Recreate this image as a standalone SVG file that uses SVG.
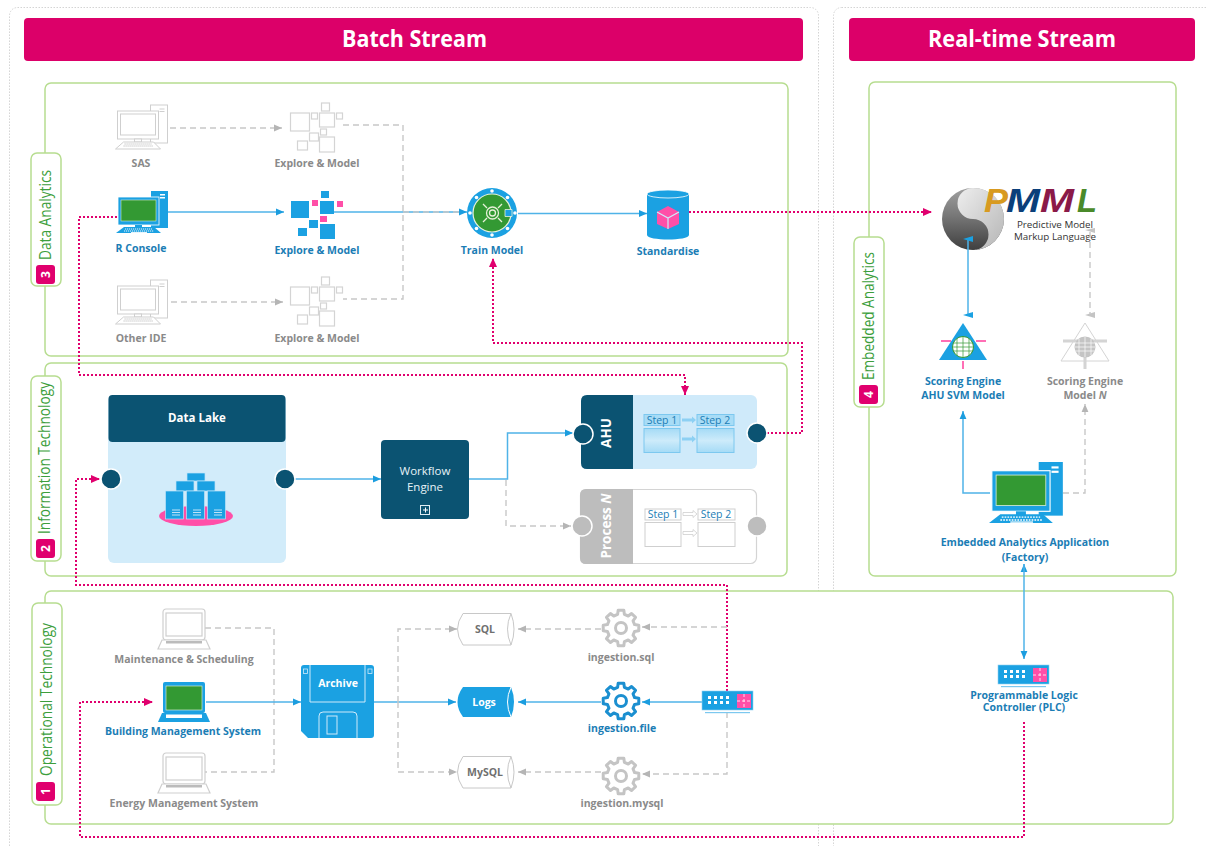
<svg xmlns="http://www.w3.org/2000/svg" xmlns:xlink="http://www.w3.org/1999/xlink" width="1206" height="846" viewBox="0 0 1206 846">
<style>
text{font-family:"Open Sans","Noto Sans","Liberation Sans",sans-serif}
.hd{font-size:23px;font-weight:700;fill:#fff;text-anchor:middle}
.panel{fill:#fff;stroke:#b7dd90;stroke-width:1.5}
.outer{fill:none;stroke:#d4d4d4;stroke-width:1;stroke-dasharray:1.5 1.5}
.tab{fill:#fff;stroke:#b7dd90;stroke-width:1.5}
.side{font-size:15.5px;fill:#3c9e3c}
.bdg{fill:#e0006e}
.num{font-size:12px;font-weight:700;fill:#fff;text-anchor:middle}
.lb{font-size:10.5px;font-weight:700;fill:#1b7db5;text-anchor:middle}
.lg{font-size:10.5px;font-weight:700;fill:#8a8a8a;text-anchor:middle}
.wb{font-weight:700;fill:#fff;text-anchor:middle}
.blue{fill:none;stroke:#4fb3e8;stroke-width:1.5}
.gray{fill:none;stroke:#c8c8c8;stroke-width:1.4;stroke-dasharray:6 4}
.pink{fill:none;stroke:#e0006e;stroke-width:2;stroke-dasharray:2 2}
.dark{fill:#0b5372}
.b{fill:#1ba1e2}
.p{fill:#ff4fa8}
.g{fill:#339933}
.gr{fill:#fff;stroke:#cfcfcf;stroke-width:1.2}
.gs{font-size:10.5px;fill:#1b7db5;text-anchor:middle}
.pm{font-size:34px;font-weight:700;font-style:italic;font-family:"Liberation Sans",sans-serif}
</style>
<defs>
<linearGradient id="stepf" x1="0" y1="0" x2="0" y2="1"><stop offset="0" stop-color="#a5dbf6"/><stop offset=".5" stop-color="#cdebfa"/><stop offset="1" stop-color="#a5dbf6"/></linearGradient>
<linearGradient id="sd" x1="0" y1="0" x2="0" y2="1"><stop offset="0" stop-color="#a0a0a0"/><stop offset=".45" stop-color="#777"/><stop offset="1" stop-color="#3f3f3f"/></linearGradient>
<linearGradient id="sl" x1="0" y1="0" x2="1" y2="1"><stop offset="0" stop-color="#eeeeee"/><stop offset="1" stop-color="#b5b5b5"/></linearGradient>
<marker id="ab" markerUnits="userSpaceOnUse" markerWidth="10" markerHeight="10" refX="9" refY="5" orient="auto"><path d="M1 1.600L9 5L1 8.400Z" fill="#1b9ddf"/></marker>
<marker id="ag" markerUnits="userSpaceOnUse" markerWidth="10" markerHeight="10" refX="9" refY="5" orient="auto"><path d="M1 1.600L9 5L1 8.400Z" fill="#b5b5b5"/></marker>
<marker id="ap" markerUnits="userSpaceOnUse" markerWidth="10" markerHeight="10" refX="9" refY="5" orient="auto"><path d="M0 1L9 5L0 9Z" fill="#e0006e"/></marker>
<g id="pcb">
<rect x="35" y="0" width="17" height="37" fill="#1ba1e2"/><rect x="44" y="3" width="5" height="1.500" fill="#fff"/><rect x="44" y="6" width="5" height="1.500" fill="#fff"/>
<rect x="2" y="6" width="41" height="28" fill="#1ba1e2" stroke="#fff" stroke-width=".8"/><rect x="5" y="9" width="35" height="21" fill="#339933" stroke="#cfe8cf" stroke-width=".6"/>
<rect x="19" y="34" width="7" height="4" fill="#1ba1e2"/>
<path d="M8 36H38L45 42H0Z" fill="#1ba1e2"/><path d="M9 38H36M8 40H38" stroke="#fff" stroke-width=".9" stroke-dasharray="1.200 .8"/><rect x="15" y="41" width="16" height=".9" fill="#fff"/>
</g>
<g id="pcg" fill="#fff" stroke="#cfcfcf" stroke-width="1">
<rect x="35" y="0" width="17" height="38"/><path d="M44 4h5M44 6.500h5"/>
<rect x="2" y="6" width="41" height="28"/><rect x="5" y="9" width="35" height="21"/>
<rect x="19" y="34" width="7" height="3"/>
<path d="M8 37H38L45 44H0Z"/><path d="M9 39H36M8 41H38" stroke-dasharray="1.200 .8" stroke="#bbb"/>
</g>
<g id="exb">
<rect x="0" y="10" width="18" height="17" fill="#1ba1e2"/><rect x="21" y="9" width="6" height="6" fill="#ff4fa8"/><rect x="30" y="0" width="8" height="7" fill="#1ba1e2"/><rect x="29" y="10" width="14" height="13" fill="#1ba1e2"/><rect x="46" y="10" width="6" height="6" fill="#ff4fa8"/><rect x="29" y="25" width="7" height="6" fill="#ff4fa8"/><rect x="18" y="29" width="9" height="8" fill="#1ba1e2"/><rect x="7" y="37" width="9" height="8" fill="#1ba1e2"/><rect x="29" y="33" width="15" height="15" fill="#1ba1e2"/>
</g>
<g id="exg" fill="#fff" stroke="#d4d4d4" stroke-width="1.200">
<rect x="0" y="10" width="19" height="18"/><rect x="21" y="10" width="6" height="6"/><rect x="31" y="0" width="8" height="8"/><rect x="29" y="10" width="15" height="14"/><rect x="46" y="10" width="6" height="6"/><rect x="30" y="26" width="6" height="6"/><rect x="19" y="30" width="9" height="8"/><rect x="7" y="38" width="10" height="9"/><rect x="29" y="34" width="15" height="15"/>
</g>
<g id="lapb">
<rect x="5" y="0" width="42" height="31" rx="2" fill="#1ba1e2"/><rect x="8" y="4" width="36" height="24" fill="#339933" stroke="#cfe8cf" stroke-width=".7"/>
<path d="M4 31H48L52 40H0Z" fill="#1ba1e2"/><rect x="8" y="32.500" width="36" height="3.500" fill="#fff"/>
</g>
<g id="lapg" fill="#fff" stroke="#cfcfcf" stroke-width="1.200">
<rect x="5" y="0" width="42" height="31" rx="3"/><rect x="8" y="4" width="36" height="23"/>
<path d="M4 31H48L52 40H0Z"/><rect x="8" y="32" width="36" height="2.500" fill="#bbb" stroke="none"/>
</g>
<path id="gear" d="M13.580-3.390L17.780-2.820L17.780 2.820L13.580 3.390L12 7.210L14.560 10.580L10.580 14.560L7.210 12L3.390 13.580L2.820 17.780L-2.820 17.780L-3.390 13.580L-7.210 12L-10.580 14.560L-14.560 10.580L-12 7.210L-13.580 3.390L-17.780 2.820L-17.780-2.820L-13.580-3.390L-12-7.210L-14.560-10.580L-10.580-14.560L-7.210-12L-3.390-13.580L-2.820-17.780L2.820-17.780L3.390-13.580L7.210-12L10.580-14.560L14.560-10.580L12-7.210Z" fill="none" stroke-width="3" stroke-linejoin="round"/>
<g id="sw">
<rect x="0" y="0" width="51" height="19" fill="#1ba1e2" stroke="#8fd0f2" stroke-width=".6"/>
<path d="M6 6.500H28M6 11.500H28" stroke="#fff" stroke-width="3" stroke-dasharray="3 3"/>
<rect x="35" y="3" width="14" height="14" fill="#ff4fa8"/><path d="M42 3V17M35 10H49" stroke="#fff" stroke-width=".8" stroke-dasharray="3 2"/>
<rect x="3" y="21" width="45" height="1.200" fill="#7cc8ef"/>
</g>
</defs>

<g id="frames">
<rect class="outer" x="9.500" y="7.500" width="809" height="860" rx="8"/>
<rect class="outer" x="833.500" y="7.500" width="400" height="860" rx="8"/>
<rect x="24" y="18" width="779" height="43" rx="4" fill="#dc0069"/>
<rect x="849" y="18" width="346" height="43" rx="4" fill="#dc0069"/>
<text class="hd" x="414.500" y="47" textLength="145" lengthAdjust="spacingAndGlyphs">Batch Stream</text>
<text class="hd" x="1022" y="47" textLength="188" lengthAdjust="spacingAndGlyphs">Real-time Stream</text>
<rect class="panel" x="45" y="83" width="743" height="273" rx="6"/>
<rect class="panel" x="45" y="363" width="742" height="213" rx="6"/>
<rect class="panel" x="45" y="591" width="1128" height="233" rx="6"/>
<rect class="panel" x="869" y="82" width="307" height="494" rx="6"/>
</g>

<g id="tab-data-analytics"><rect class="tab" x="31" y="153" width="30" height="133" rx="6"/><rect class="bdg" x="36" y="265" width="19" height="19" rx="3"/><text class="num" transform="translate(50 274.500) rotate(-90)">3</text><text class="side" transform="translate(51 260) rotate(-90)" textLength="90" lengthAdjust="spacingAndGlyphs">Data Analytics</text></g>
<g id="tab-information-technology"><rect class="tab" x="31" y="376" width="30" height="185" rx="6"/><rect class="bdg" x="36" y="539" width="19" height="19" rx="3"/><text class="num" transform="translate(50 548.500) rotate(-90)">2</text><text class="side" transform="translate(50 534) rotate(-90)" textLength="152" lengthAdjust="spacingAndGlyphs">Information Technology</text></g>
<g id="tab-operational-technology"><rect class="tab" x="32" y="603" width="30" height="202" rx="6"/><rect class="bdg" x="36" y="782" width="19" height="19" rx="3"/><text class="num" transform="translate(50 791.500) rotate(-90)">1</text><text class="side" transform="translate(52 776) rotate(-90)" textLength="153" lengthAdjust="spacingAndGlyphs">Operational Technology</text></g>
<g id="tab-embedded-analytics"><rect class="tab" x="854" y="237" width="30" height="170" rx="6"/><rect class="bdg" x="859" y="385" width="19" height="19" rx="3"/><text class="num" transform="translate(873 394.500) rotate(-90)">4</text><text class="side" transform="translate(874 380) rotate(-90)" textLength="128" lengthAdjust="spacingAndGlyphs">Embedded Analytics</text></g>

<g id="node-pmml">
<circle cx="973" cy="219" r="31" fill="url(#sd)"/>
<path d="M973 188A31 31 0 0 1 1004 219A31 31 0 0 1 973 250A15.500 15.500 0 0 0 973 219A15.500 15.500 0 0 1 973 188Z" fill="url(#sl)"/>
<text class="pm" x="984" y="212" fill="#d89a20" textLength="24" lengthAdjust="spacingAndGlyphs">P</text>
<text class="pm" x="1006" y="212" fill="#0b3f7a" textLength="34" lengthAdjust="spacingAndGlyphs">M</text>
<text class="pm" x="1040" y="212" fill="#8a1a48" textLength="34" lengthAdjust="spacingAndGlyphs">M</text>
<text class="pm" x="1077" y="212" fill="#4a8a2a" textLength="20" lengthAdjust="spacingAndGlyphs">L</text>
<text x="1055" y="228" font-size="9.800" fill="#333" text-anchor="middle">Predictive Model</text>
<text x="1055" y="240" font-size="9.800" fill="#333" text-anchor="middle">Markup Language</text>
</g>

<g id="connectors">
<path class="gray" d="M170 128H282" marker-end="url(#ag)"/>
<path class="gray" d="M343 125H403V299H343"/>
<path class="gray" d="M171 302H283" marker-end="url(#ag)"/>
<path class="blue" d="M167 212H284" marker-end="url(#ab)"/>
<path class="blue" d="M334 212H467" marker-end="url(#ab)"/>
<path class="gray" d="M403 212H460"/>
<path class="blue" d="M518 213.500H647" marker-end="url(#ab)"/>
<path class="pink" d="M689 212H932" marker-end="url(#ap)"/>
<path class="pink" d="M117 217H79V375H685V395" marker-end="url(#ap)"/>
<path class="pink" d="M767 433H802V343H493V258" marker-end="url(#ap)"/>
<path class="pink" d="M727 691V585H76V479H100" marker-end="url(#ap)"/>
<path class="pink" d="M1024 722V837H80V702H153" marker-end="url(#ap)"/>
<path class="blue" d="M295 479H381" marker-end="url(#ab)"/>
<path class="blue" d="M469 479H507.500V433H573" marker-end="url(#ab)"/>
<path class="gray" d="M506 480V526H571" marker-end="url(#ag)"/>
<path class="blue" d="M968 238V316"/><path d="M963 239L973 236V242Z" fill="#1ba1e2"/><path d="M963 315L973 312V318Z" fill="#1ba1e2"/>
<path class="gray" d="M1090 232V314"/><path d="M1085 230L1095 228V233Z" fill="#c4c4c4"/><path d="M1085 315L1095 312V318Z" fill="#c4c4c4"/>
<path class="blue" d="M990 493H963V411" marker-end="url(#ab)"/>
<path class="gray" d="M1063 493H1085V404" marker-end="url(#ag)"/>
<path class="blue" d="M1024 572V564" marker-end="url(#ab)"/>
<path class="blue" d="M1024 564V659" marker-end="url(#ab)"/>
<path class="gray" d="M205 628H274V772H205"/>
<path class="blue" d="M206 702H301" marker-end="url(#ab)"/>
<path class="blue" d="M374 702H456" marker-end="url(#ab)"/>
<path class="gray" d="M398 702V629H457" marker-end="url(#ag)"/>
<path class="gray" d="M398 702V772H457" marker-end="url(#ag)"/>
<path class="gray" d="M601 629H518" marker-end="url(#ag)"/>
<path class="blue" d="M601 702H518" marker-end="url(#ab)"/>
<path class="gray" d="M601 772H518" marker-end="url(#ag)"/>
<path class="gray" d="M727 627H642" marker-end="url(#ag)"/>
<path class="blue" d="M702 702H642" marker-end="url(#ab)"/>
<path class="gray" d="M727 712V774H642" marker-end="url(#ag)"/>
</g>

<g id="node-sas"><use href="#pcg" x="115.500" y="105"/><text class="lg" x="141" y="167">SAS</text></g>
<g id="node-explore-1"><use href="#exg" x="290.500" y="103"/><text class="lg" x="317" y="167">Explore &amp; Model</text></g>
<g id="node-r-console"><use href="#pcb" x="116" y="191"/><text class="lb" x="141" y="252">R Console</text></g>
<g id="node-explore-2"><use href="#exb" x="291" y="191"/><text class="lb" x="317" y="254">Explore &amp; Model</text></g>
<g id="node-other-ide"><use href="#pcg" x="115.500" y="280"/><text class="lg" x="141" y="342">Other IDE</text></g>
<g id="node-explore-3"><use href="#exg" x="290.500" y="277"/><text class="lg" x="317" y="342">Explore &amp; Model</text></g>

<g id="node-train-model">
<circle cx="492" cy="213" r="25" fill="#1ba1e2"/>
<g fill="#fff"><circle cx="492" cy="191" r="1.800"/><circle cx="492" cy="235" r="1.800"/><circle cx="470" cy="213" r="1.800"/><circle cx="515" cy="213" r="1.800"/><circle cx="476.500" cy="197.500" r="1.800"/><circle cx="507.500" cy="197.500" r="1.800"/><circle cx="476.500" cy="228.500" r="1.800"/><circle cx="507.500" cy="228.500" r="1.800"/></g>
<circle cx="492" cy="213" r="19" fill="#339933" stroke="#e8f2d8" stroke-width="1.200"/>
<path d="M505 209.500H512V216.500H505Z" fill="#1ba1e2" stroke="#e8f2d8" stroke-width=".8"/>
<g fill="none" stroke="#e6efd8" stroke-width="1.300"><circle cx="492.500" cy="213" r="6"/><circle cx="492.500" cy="213" r="3"/><path d="M483 204L487 208M502 204L498 208M483 222L487 218M502 222L498 218"/></g>
<text class="lb" x="492" y="254">Train Model</text>
</g>

<g id="node-standardise">
<path d="M647 194V235C647 241 689 241 689 235V194Z" fill="#1ba1e2"/>
<ellipse cx="668" cy="194" rx="21" ry="4" fill="#1ba1e2" stroke="#fff" stroke-width=".8"/>
<path d="M668 206L679 212V224L668 229L657 224V212Z" fill="#ff4fa8"/>
<path d="M657 212L668 218L679 212M668 218V229" fill="none" stroke="#cfeafa" stroke-width="1.200"/>
<text class="lb" x="668" y="255">Standardise</text>
</g>

<g id="node-data-lake">
<rect x="108" y="395" width="178" height="168" rx="6" fill="#d2ecfa"/>
<rect x="108.500" y="395" width="177" height="47" rx="4" class="dark"/>
<text class="wb" x="197" y="422" font-size="11.500">Data Lake</text>
<ellipse cx="196" cy="516" rx="37" ry="10" fill="#ff4fa8"/>
<g class="b" stroke="#bde3f8" stroke-width=".7"><rect x="187" y="473" width="18" height="8"/><rect x="176" y="481" width="18" height="10"/><rect x="197" y="481" width="18" height="10"/><rect x="165.500" y="491" width="18" height="28"/><rect x="186.500" y="491" width="18" height="28"/><rect x="207.500" y="491" width="18" height="28"/></g>
<path d="M172 510H180M172 512.500H180M172 515H180M193 510H201M193 512.500H201M193 515H201M214 510H222M214 512.500H222M214 515H222" stroke="#bde3f8" stroke-width="1.200"/>
<circle cx="111" cy="479" r="10" class="dark" stroke="#fff" stroke-width="1.500"/>
<circle cx="285" cy="479" r="10" class="dark" stroke="#fff" stroke-width="1.500"/>
</g>

<g id="node-workflow-engine">
<rect x="381" y="440" width="88" height="79" rx="4" class="dark"/>
<text x="425" y="475" font-size="11.500" fill="#e6f2f7" text-anchor="middle">Workflow</text>
<text x="425" y="491" font-size="11.500" fill="#e6f2f7" text-anchor="middle">Engine</text>
<rect x="420.500" y="505.500" width="9" height="9" fill="none" stroke="#dfeef5"/><path d="M423 510H428M425.500 507.500V512.500" stroke="#fff"/>
</g>

<g id="node-ahu">
<rect x="581" y="395" width="176" height="74" rx="6" fill="#cfeafa"/>
<path d="M587 395H633V469H587Q581 469 581 463V401Q581 395 587 395Z" class="dark"/>
<text class="wb" transform="translate(611 433) rotate(-90)" font-size="13.500">AHU</text>
<g stroke="#7cc8ef"><rect x="644" y="414.500" width="36" height="11" fill="#a8dcf6"/><rect x="697" y="414.500" width="37" height="11" fill="#a8dcf6"/><rect x="644" y="428.500" width="36" height="24" fill="url(#stepf)"/><rect x="697" y="428.500" width="37" height="24" fill="url(#stepf)"/></g>
<text class="gs" x="662" y="424">Step 1</text><text class="gs" x="715" y="424">Step 2</text>
<path d="M682 418.500H692V416.500L696 420L692 423.500V421.500H682ZM682 437.500H692V435.500L696 439L692 442.500V440.500H682Z" fill="#8dd0f3"/>
<circle cx="583" cy="434" r="10" class="dark" stroke="#fff" stroke-width="1.500"/>
<circle cx="757" cy="433" r="10" class="dark" stroke="#fff" stroke-width="1.500"/>
</g>

<g id="node-process-n">
<rect x="580.500" y="489.500" width="176" height="74" rx="6" fill="#fff" stroke="#d4d4d4" stroke-width="1.200"/>
<path d="M586 489H633V564H586Q580 564 580 558V495Q580 489 586 489Z" fill="#bdbdbd"/>
<text class="wb" transform="translate(611 526) rotate(-90)" font-size="13.500">Process <tspan font-style="italic">N</tspan></text>
<g fill="#fff" stroke="#cfcfcf"><rect x="645" y="509" width="36" height="11"/><rect x="698" y="509" width="37" height="11"/><rect x="645" y="522.500" width="36" height="24"/><rect x="698" y="522.500" width="37" height="24"/></g>
<text class="gs" x="663" y="518">Step 1</text><text class="gs" x="716" y="518">Step 2</text>
<path d="M683 512.500H693V510.500L697 514L693 517.500V515.500H683ZM683 531.500H693V529.500L697 533L693 536.500V534.500H683Z" fill="#fff" stroke="#cfcfcf" stroke-width=".8"/>
<circle cx="582" cy="526" r="10" fill="#bdbdbd" stroke="#fff" stroke-width="1.500"/>
<circle cx="757" cy="526" r="10" fill="#bdbdbd" stroke="#fff" stroke-width="1.500"/>
</g>

<g id="node-scoring-ahu">
<path d="M963 323L987 360H939Z" fill="#1ba1e2"/>
<path d="M941 341H951M976 341H986M963 361V369" stroke="#ff6fb5" stroke-width="2"/>
<circle cx="963" cy="347" r="10.500" fill="#fff" stroke="#339933" stroke-width="1"/>
<path d="M953 343H973M953 347H973M953 351H973M957 339V355M963 337V357M969 339V355" stroke="#339933" stroke-width=".7" fill="none"/>
<text class="lb" x="963" y="385">Scoring Engine</text>
<text class="lb" x="963" y="399">AHU SVM Model</text>
</g>
<g id="node-scoring-n">
<path d="M1085 323L1109 361H1061Z" fill="#fff" stroke="#d4d4d4"/>
<path d="M1063 341H1107M1085 355V369" stroke="#d4d4d4" stroke-width="3"/>
<circle cx="1085" cy="347" r="10.500" fill="#c4c4c4"/>
<path d="M1075 343H1095M1075 347H1095M1075 351H1095M1079 339V355M1085 337V357M1091 339V355" stroke="#fff" stroke-width=".7" fill="none"/>
<text class="lg" x="1085" y="385">Scoring Engine</text>
<text class="lg" x="1085" y="399">Model <tspan font-style="italic">N</tspan></text>
</g>

<g id="node-embedded-app">
<use href="#pcb" transform="translate(989 462) scale(1.420 1.450)"/>
<text class="lb" x="1025" y="546">Embedded Analytics Application</text>
<text class="lb" x="1025" y="561">(Factory)</text>
</g>

<g id="node-plc">
<use href="#sw" x="998" y="665"/>
<text class="lb" x="1024" y="699">Programmable Logic</text>
<text class="lb" x="1024" y="711">Controller (PLC)</text>
</g>

<g id="node-maintenance"><use href="#lapg" x="158" y="609"/><text class="lg" x="184" y="663">Maintenance &amp; Scheduling</text></g>
<g id="node-bms"><use href="#lapb" x="158" y="682"/><text class="lb" x="183" y="735">Building Management System</text></g>
<g id="node-ems"><use href="#lapg" x="158" y="753"/><text class="lg" x="184" y="807">Energy Management System</text></g>

<g id="node-archive">
<path d="M304 665H371Q374 665 374 668V735Q374 738 371 738H308L301 731V668Q301 665 304 665Z" class="b"/>
<path d="M310 665V702H365V665M319 738V716Q319 712 323 712H353Q357 712 357 716V738" fill="none" stroke="#cfeafa" stroke-width="1"/>
<rect x="327" y="716" width="10" height="18" fill="none" stroke="#cfeafa"/>
<rect x="303.500" y="669" width="4" height="4.500" fill="none" stroke="#cfeafa" stroke-width=".8"/><rect x="368" y="669" width="4" height="4.500" fill="none" stroke="#cfeafa" stroke-width=".8"/>
<text class="wb" x="338" y="687" font-size="10.500">Archive</text>
</g>

<g id="node-sql">
<path d="M463 613.500H511Q517 629 511 645H463Q452 629 463 613.500Z" fill="#fff" stroke="#c8c8c8"/><path d="M511 613.500Q504 629 511 645" fill="none" stroke="#c8c8c8"/>
<text x="485" y="633" font-size="10.500" font-weight="700" fill="#707070" text-anchor="middle">SQL</text>
</g>
<g id="node-logs">
<path d="M463 687H511Q517 702 511 717H463Q452 702 463 687Z" class="b"/><path d="M511 687Q504 702 511 717" fill="none" stroke="#fff"/>
<text class="wb" x="484" y="706" font-size="10.500">Logs</text>
</g>
<g id="node-mysql">
<path d="M463 756.500H511Q517 772 511 788H463Q452 772 463 756.500Z" fill="#fff" stroke="#c8c8c8"/><path d="M511 756.500Q504 772 511 788" fill="none" stroke="#c8c8c8"/>
<text x="485" y="776" font-size="10.500" font-weight="700" fill="#707070" text-anchor="middle">MySQL</text>
</g>

<g id="node-ingestion-sql"><use href="#gear" x="621" y="628" stroke="#c4c4c4"/><circle cx="621" cy="628" r="5.500" fill="none" stroke="#c4c4c4" stroke-width="3"/><text class="lg" x="621" y="661">ingestion.sql</text></g>
<g id="node-ingestion-file"><use href="#gear" x="621" y="701" stroke="#1b8fd0"/><circle cx="621" cy="701" r="5.500" fill="none" stroke="#1b8fd0" stroke-width="3"/><text class="lb" x="622" y="732">ingestion.file</text></g>
<g id="node-ingestion-mysql"><use href="#gear" x="621" y="776" stroke="#c4c4c4"/><circle cx="621" cy="776" r="5.500" fill="none" stroke="#c4c4c4" stroke-width="3"/><text class="lg" x="622" y="807">ingestion.mysql</text></g>
<g id="node-switch"><use href="#sw" x="702" y="691"/></g>
</svg>
